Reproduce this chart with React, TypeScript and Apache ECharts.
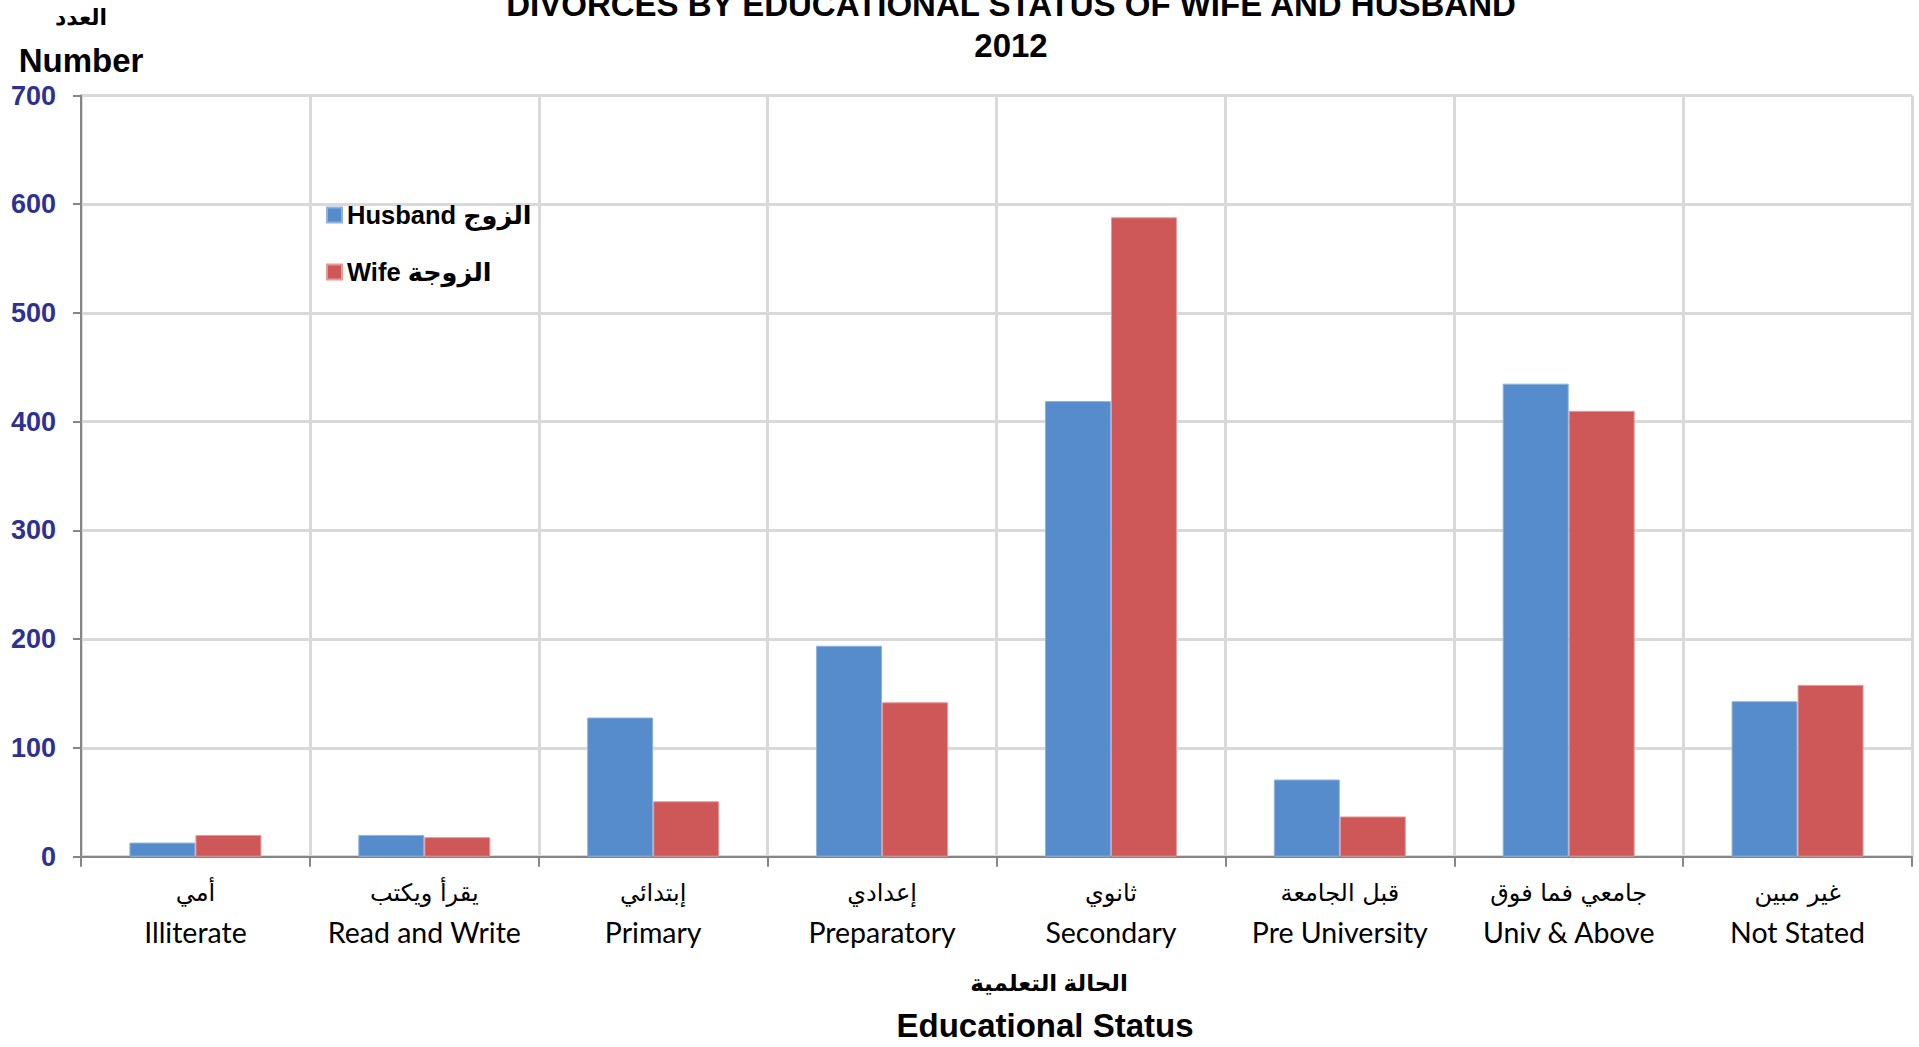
import React, { useEffect, useRef } from "react";
import * as echarts from "echarts";

const categoriesAr = ["أمي", "يقرأ ويكتب", "إبتدائي", "إعدادي", "ثانوي", "قبل الجامعة", "جامعي فما فوق", "غير مبين"];
const categoriesEn = ["Illiterate", "Read and Write", "Primary", "Preparatory", "Secondary", "Pre University", "Univ & Above", "Not Stated"];
const husbandValues = [13, 20, 128, 194, 419, 71, 435, 143];
const wifeValues = [20, 18, 51, 142, 588, 37, 410, 158];
const seriesNames = ["Husband الزوج", "Wife الزوجة"];
const titleLines = ["DIVORCES BY EDUCATIONAL STATUS OF WIFE AND HUSBAND", "2012"];
const yNameLines = ["العدد", "Number"];
const xNameLines = ["الحالة التعلمية", "Educational Status"];
const yMin = 0;
const yMax = 700;
const yInterval = 100;

const BOLD = "Arial, 'Liberation Sans', 'DejaVu Sans', sans-serif";

export default function App() {
  const ref = useRef<HTMLDivElement>(null);
  useEffect(() => {
    if (!ref.current) return;
    const chart = echarts.init(ref.current, undefined, { renderer: "svg" });
    const cats = categoriesAr.map((a, i) => `${a}\n${categoriesEn[i]}`);
    const option: any = {
      animation: false,
      backgroundColor: "#ffffff",
      grid: { left: 81, right: 7, top: 95.5, bottom: 190.3, containLabel: false },
      legend: {
        orient: "vertical",
        left: 321,
        top: 197,
        itemWidth: 15,
        itemHeight: 15,
        itemGap: 31,
        icon: "rect",
        data: seriesNames,
        textStyle: { fontFamily: BOLD, fontWeight: "bold", fontSize: 25.5, color: "#000" },
      },
      graphic: [
        { type: "text", x: 1011, y: 4, style: { text: titleLines[0], fontFamily: BOLD, fontWeight: "bold", fontSize: 33, fill: "#000", align: "center", verticalAlign: "middle" } },
        { type: "text", x: 1011, y: 45, style: { text: titleLines[1], fontFamily: BOLD, fontWeight: "bold", fontSize: 33, fill: "#000", align: "center", verticalAlign: "middle" } },
        { type: "text", x: 81, y: 17, style: { text: yNameLines[0], fontFamily: BOLD, fontWeight: "bold", fontSize: 22, fill: "#000", align: "center", verticalAlign: "middle" } },
        { type: "text", x: 81, y: 60, style: { text: yNameLines[1], fontFamily: BOLD, fontWeight: "bold", fontSize: 33, fill: "#000", align: "center", verticalAlign: "middle" } },
        { type: "text", x: 1049, y: 983, style: { text: xNameLines[0], fontFamily: BOLD, fontWeight: "bold", fontSize: 23, fill: "#000", align: "center", verticalAlign: "middle" } },
        { type: "text", x: 1045, y: 1025, style: { text: xNameLines[1], fontFamily: BOLD, fontWeight: "bold", fontSize: 33, fill: "#000", align: "center", verticalAlign: "middle" } },
      ],
      xAxis: {
        type: "category",
        data: cats,
        boundaryGap: true,
        axisLine: { show: true, lineStyle: { color: "#868686", width: 2 } },
        axisTick: { show: true, length: 10, lineStyle: { color: "#868686", width: 2 } },
        splitLine: { show: true, interval: 0, lineStyle: { color: "#d9d9d9", width: 3 } },
        axisLabel: {
          interval: 0,
          margin: 17,
          formatter: (v: string) => {
            const [a, e] = v.split("\n");
            return `{ar|${a}}\n{en|${e}}`;
          },
          rich: {
            ar: { fontFamily: "'DejaVu Sans', sans-serif", fontSize: 24, lineHeight: 39, color: "#000" },
            en: { fontFamily: "Lato, sans-serif", fontSize: 28.5, lineHeight: 39, color: "#000" },
          },
        },
      },
      yAxis: {
        type: "value",
        min: yMin,
        max: yMax,
        interval: yInterval,
        axisLine: { show: true, lineStyle: { color: "#868686", width: 2 } },
        axisTick: { show: true, length: 8, lineStyle: { color: "#868686", width: 2 } },
        splitLine: { show: true, lineStyle: { color: "#d9d9d9", width: 3 } },
        axisLabel: { margin: 25, fontFamily: BOLD, fontWeight: "bold", fontSize: 27, color: "#2E3192" },
      },
      series: [
        {
          name: seriesNames[0],
          type: "bar",
          data: husbandValues,
          barWidth: 66,
          barGap: "0%",
          itemStyle: { color: "#568CCB", borderColor: "#8DB3E2", borderWidth: 1 },
        },
        {
          name: seriesNames[1],
          type: "bar",
          data: wifeValues,
          barWidth: 66,
          barGap: "0%",
          itemStyle: { color: "#CE5858", borderColor: "#E59A99", borderWidth: 1 },
        },
      ],
    };
    chart.setOption(option);
    return () => chart.dispose();
  }, []);
  return <div ref={ref} style={{ position: "fixed", left: 0, top: 0, width: 1919, height: 1047, background: "#fff" }} />;
}
